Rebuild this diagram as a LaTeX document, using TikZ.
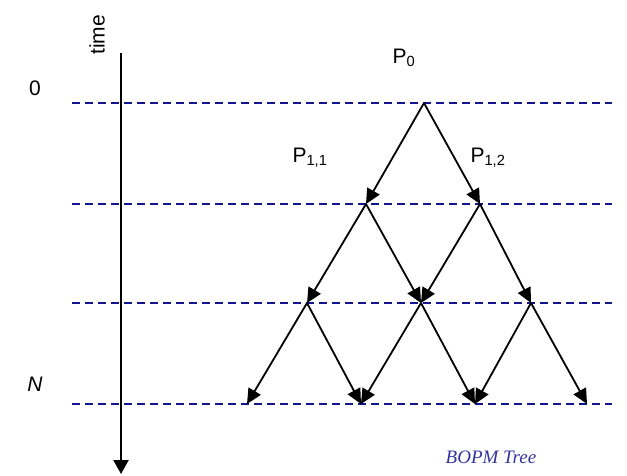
\documentclass[tikz,border=0pt]{standalone}
\usepackage{fontspec}
\setmainfont{Liberation Sans}
\newfontfamily\serifcap{Liberation Serif}
\usetikzlibrary{arrows.meta}
\definecolor{dashblue}{RGB}{20,20,140}
\definecolor{capblue}{RGB}{51,51,160}
\begin{document}
\begin{tikzpicture}[x=1pt,y=-1pt,
  level/.style={draw=dashblue,line width=1.9pt,dash pattern=on 8pt off 5pt},
  branch/.style={draw=black,line width=1.8pt,-{Triangle[length=15pt,width=14pt]}},
  lab/.style={font=\fontsize{21}{24}\selectfont,inner sep=0pt}]
\useasboundingbox (0,0) rectangle (627,476);
% time axis
\coordinate (ta) at (121,53);
\coordinate (tb) at (121,474);
\draw[line width=2.5pt,-{Triangle[length=14pt,width=15pt]}] (ta) -- (tb);
\node[lab,rotate=90] (time) at (97,35) {time};
% levels
\foreach \y/\n in {103/l0,204/l1,303/l2,404/l3}{
  \coordinate (\n a) at (72,\y);
  \coordinate (\n b) at (612,\y);
  \draw[level] (\n a) -- (\n b);
}
\node[lab] (zero) at (35,88) {0};
\node[lab,font=\fontsize{21}{24}\selectfont\itshape] (N) at (35,384) {N};
% tree points
\coordinate (a0) at (424,103);
\coordinate (b1) at (366,204);
\coordinate (b2) at (480,204);
\coordinate (c1) at (307,303);
\coordinate (c2) at (421,303);
\coordinate (c3) at (531,303);
\coordinate (d1) at (247,404);
\coordinate (d2) at (361,404);
\coordinate (d3) at (475,404);
\coordinate (d4) at (587,404);
\draw[branch] (a0) -- (b1);
\draw[branch] (a0) -- (b2);
\draw[branch] (b1) -- (c1);
\draw[branch] (b1) -- (c2);
\draw[branch] (b2) -- (c2);
\draw[branch] (b2) -- (c3);
\draw[branch] (c1) -- (d1);
\draw[branch] (c1) -- (d2);
\draw[branch] (c2) -- (d2);
\draw[branch] (c2) -- (d3);
\draw[branch] (c3) -- (d3);
\draw[branch] (c3) -- (d4);
% labels
\node[lab] (p0) at (404,58) {P\textsubscript{0}};
\node[lab] (p11) at (310,158) {P\textsubscript{1,1}};
\node[lab] (p12) at (488,158) {P\textsubscript{1,2}};
\node[inner sep=0pt,text=capblue,font=\serifcap\itshape\fontsize{19}{22}\selectfont] (cap) at (491,457) {BOPM Tree};
\end{tikzpicture}
\end{document}
